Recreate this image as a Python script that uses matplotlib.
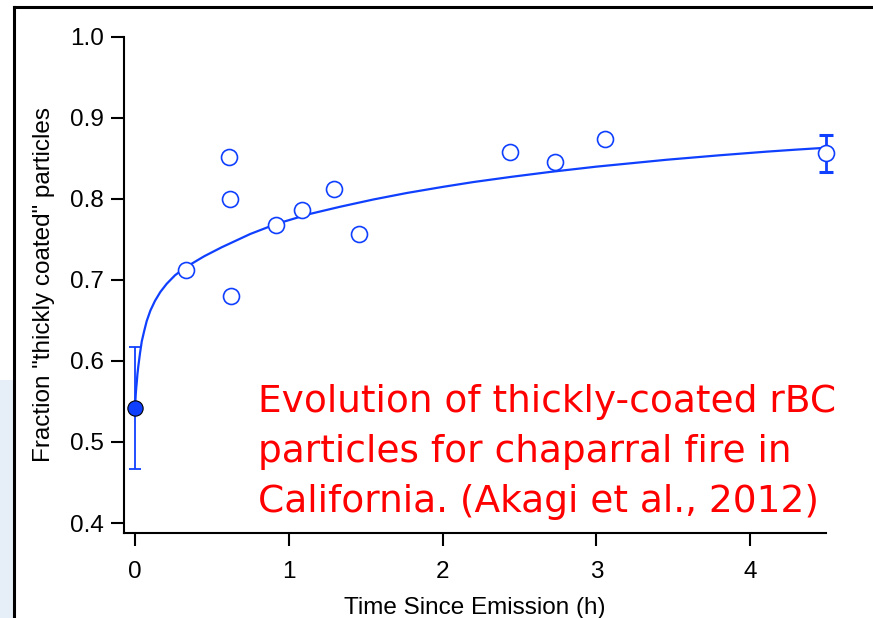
import matplotlib
matplotlib.use("Agg")
import matplotlib.pyplot as plt
from matplotlib.lines import Line2D
from matplotlib.patches import Rectangle

# observed points (open circles)
time_h = [0.334, 0.611, 0.620, 0.624, 0.917, 1.086, 1.296, 1.454, 2.438, 2.731, 3.056, 4.493]
frac = [0.712, 0.851, 0.800, 0.680, 0.768, 0.786, 0.812, 0.756, 0.857, 0.845, 0.873, 0.856]

# source point at t=0 (filled) with its error bar
t0 = [0.0]
frac0 = [0.542]
err0 = [0.075]

# error bar on last point
t_last = [4.493]
frac_last = [0.856]
err_last = [0.023]

# fitted curve
fit_t = [0, 0.005, 0.008, 0.011, 0.016, 0.022, 0.033, 0.044, 0.06, 0.076, 0.1, 0.13, 0.165,
         0.206, 0.26, 0.325, 0.45, 0.563, 0.75, 0.921, 1.133, 1.333, 1.55, 1.767, 2.0, 2.2,
         2.45, 2.7, 3.0, 3.457, 3.8, 4.107, 4.3, 4.493]
fit_y = [0.5418, 0.559, 0.5665, 0.5725, 0.584, 0.594, 0.610, 0.624, 0.637, 0.649, 0.662, 0.674,
         0.685, 0.695, 0.7055, 0.7149, 0.729, 0.740, 0.7565, 0.769, 0.781, 0.790, 0.799, 0.807,
         0.8145, 0.8205, 0.827, 0.833, 0.8395, 0.848, 0.8535, 0.858, 0.8605, 0.8628]

blue = '#1040ff'
plt.rcParams['font.family'] = ['Liberation Sans', 'DejaVu Sans']

fig = plt.figure(figsize=(8.73, 6.18), dpi=100)
fig.patch.set_facecolor('white')

# light strip at the left edge and outer frame
fig.add_artist(Rectangle((0, 0), 14/873, 1 - 380/618, transform=fig.transFigure,
                         facecolor='#e6eef7', edgecolor='none'))
fig.add_artist(Line2D([14/873, 14/873], [0, 1 - 7/618], transform=fig.transFigure,
                      color='black', lw=2.2))
fig.add_artist(Line2D([14/873, 1], [1 - 7/618, 1 - 7/618], transform=fig.transFigure,
                      color='black', lw=2.2))

ax = fig.add_axes([124/873, 1 - 533/618, (826 - 124)/873, (533 - 36.5)/618])

ax.plot(fit_t, fit_y, '-', color=blue, lw=1.6, clip_on=False, zorder=2,
        solid_joinstyle='round')
ax.errorbar(t0, frac0, yerr=err0, fmt='none', ecolor=blue, elinewidth=1.3,
            capsize=4.5, capthick=1.3, clip_on=False, zorder=3)
ax.errorbar(t_last, frac_last, yerr=err_last, fmt='none', ecolor=blue, elinewidth=2,
            capsize=5, capthick=2.2, clip_on=False, zorder=3)
ax.plot(time_h, frac, 'o', ms=11.5, mfc='white', mec=blue, mew=1.2, clip_on=False, zorder=4)
ax.plot(t0, frac0, 'o', ms=11, mfc=blue, mec='black', mew=0.8, clip_on=False, zorder=5)

ax.set_xlim(-0.0715, 4.493)
ax.set_ylim(0.3877, 1.0)
ax.set_xticks([0, 1, 2, 3, 4])
ax.set_yticks([0.4, 0.5, 0.6, 0.7, 0.8, 0.9, 1.0])
ax.set_yticklabels(['0.4', '0.5', '0.6', '0.7', '0.8', '0.9', '1.0'])

for side in ['top', 'right']:
    ax.spines[side].set_visible(False)
for side in ['left', 'bottom']:
    ax.spines[side].set_linewidth(1.5)
ax.tick_params(axis='both', direction='out', length=9.5, width=1.5, labelsize=17.5)
ax.tick_params(axis='x', pad=10.5)
ax.tick_params(axis='y', pad=5)

ax.set_xlabel('Time Since Emission (h)', fontsize=17.5, labelpad=10)
ax.set_ylabel('Fraction "thickly coated" particles', fontsize=17.5, labelpad=11)

fig.text(258/873, 1 - 384/618,
         'Evolution of thickly-coated rBC\nparticles for chaparral fire in\nCalifornia. (Akagi et al., 2012)',
         color='red', fontsize=27, ha='left', va='top', linespacing=1.5,
         family=['DejaVu Sans'])

fig.savefig('out.png', dpi=100, facecolor='white')
